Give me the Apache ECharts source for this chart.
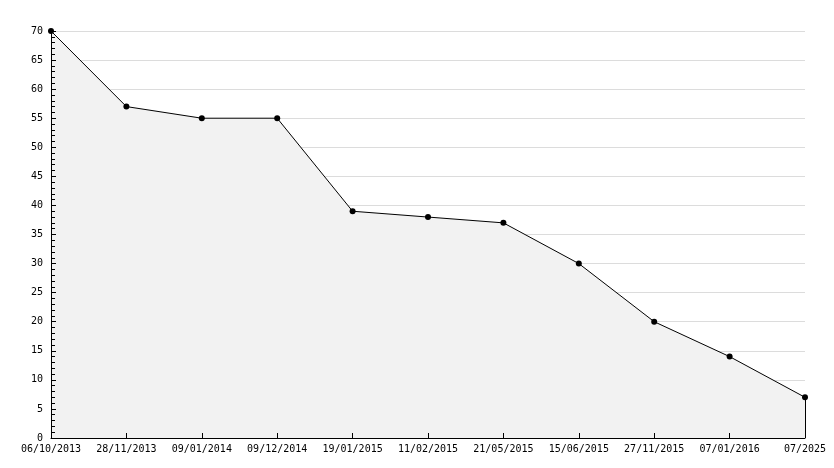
<!DOCTYPE html>
<html>
<head>
<meta charset="utf-8">
<script src="https://cdn.jsdelivr.net/npm/echarts@6/dist/echarts.min.js"></script>
<style>html,body{margin:0;padding:0;background:#fff;}#c{width:834px;height:468px;}</style>
</head>
<body>
<div id="c"></div>
<script>
const categories = ['06/10/2013','28/11/2013','09/01/2014','09/12/2014','19/01/2015','11/02/2015','21/05/2015','15/06/2015','27/11/2015','07/01/2016','07/2025'];
const values = [70, 57, 55, 55, 39, 38, 37, 30, 20, 14, 7];
const yMin = 0, yMax = 70, yStep = 5;

const font = 'DejaVu Sans Mono';
const chart = echarts.init(document.getElementById('c'), null, {renderer: 'canvas'});
const lastCat = categories[categories.length - 1];
const lastVal = values[values.length - 1];

function xAxisCfg(front) {
  return {
    type: 'category',
    position: 'bottom',
    data: categories,
    boundaryGap: false,
    z: front ? 10 : 0,
    axisLine: {show: front, onZero: false, lineStyle: {color: '#000', width: 1}},
    axisTick: {show: front, inside: true, length: 5, lineStyle: {color: '#000'}, alignWithLabel: true},
    axisLabel: {show: front, color: '#000', fontFamily: font, fontSize: 10, margin: 6, interval: 0},
    splitLine: {show: false}
  };
}
function yAxisCfg(front) {
  return {
    type: 'value',
    position: 'left',
    min: yMin, max: yMax, interval: yStep,
    z: front ? 10 : 0,
    axisLine: {show: front, lineStyle: {color: '#000', width: 1}},
    axisTick: {show: front, inside: true, length: 5, lineStyle: {color: '#000'}},
    minorTick: {show: front, splitNumber: 5, length: 4, lineStyle: {color: '#000'}},
    axisLabel: {show: front, color: '#000', fontFamily: font, fontSize: 10, margin: 8},
    splitLine: {show: !front, lineStyle: {color: '#dcdcdc', width: 1}}
  };
}

chart.setOption({
  animation: false,
  backgroundColor: '#fff',
  grid: {left: 51, right: 29, top: 31, bottom: 30, containLabel: false},
  xAxis: [xAxisCfg(false), xAxisCfg(true)],
  yAxis: [yAxisCfg(false), yAxisCfg(true)],
  series: [{
    type: 'line',
    xAxisIndex: 0,
    yAxisIndex: 0,
    data: values,
    symbol: 'circle',
    symbolSize: 6,
    z: 3,
    itemStyle: {color: '#000'},
    lineStyle: {color: '#000', width: 1},
    areaStyle: {color: '#f2f2f2', opacity: 1},
    markLine: {
      silent: true,
      symbol: ['none', 'none'],
      label: {show: false},
      lineStyle: {color: '#000', width: 1, type: 'solid'},
      data: [[{coord: [lastCat, lastVal]}, {coord: [lastCat, yMin]}]]
    }
  }]
});
</script>
</body>
</html>
